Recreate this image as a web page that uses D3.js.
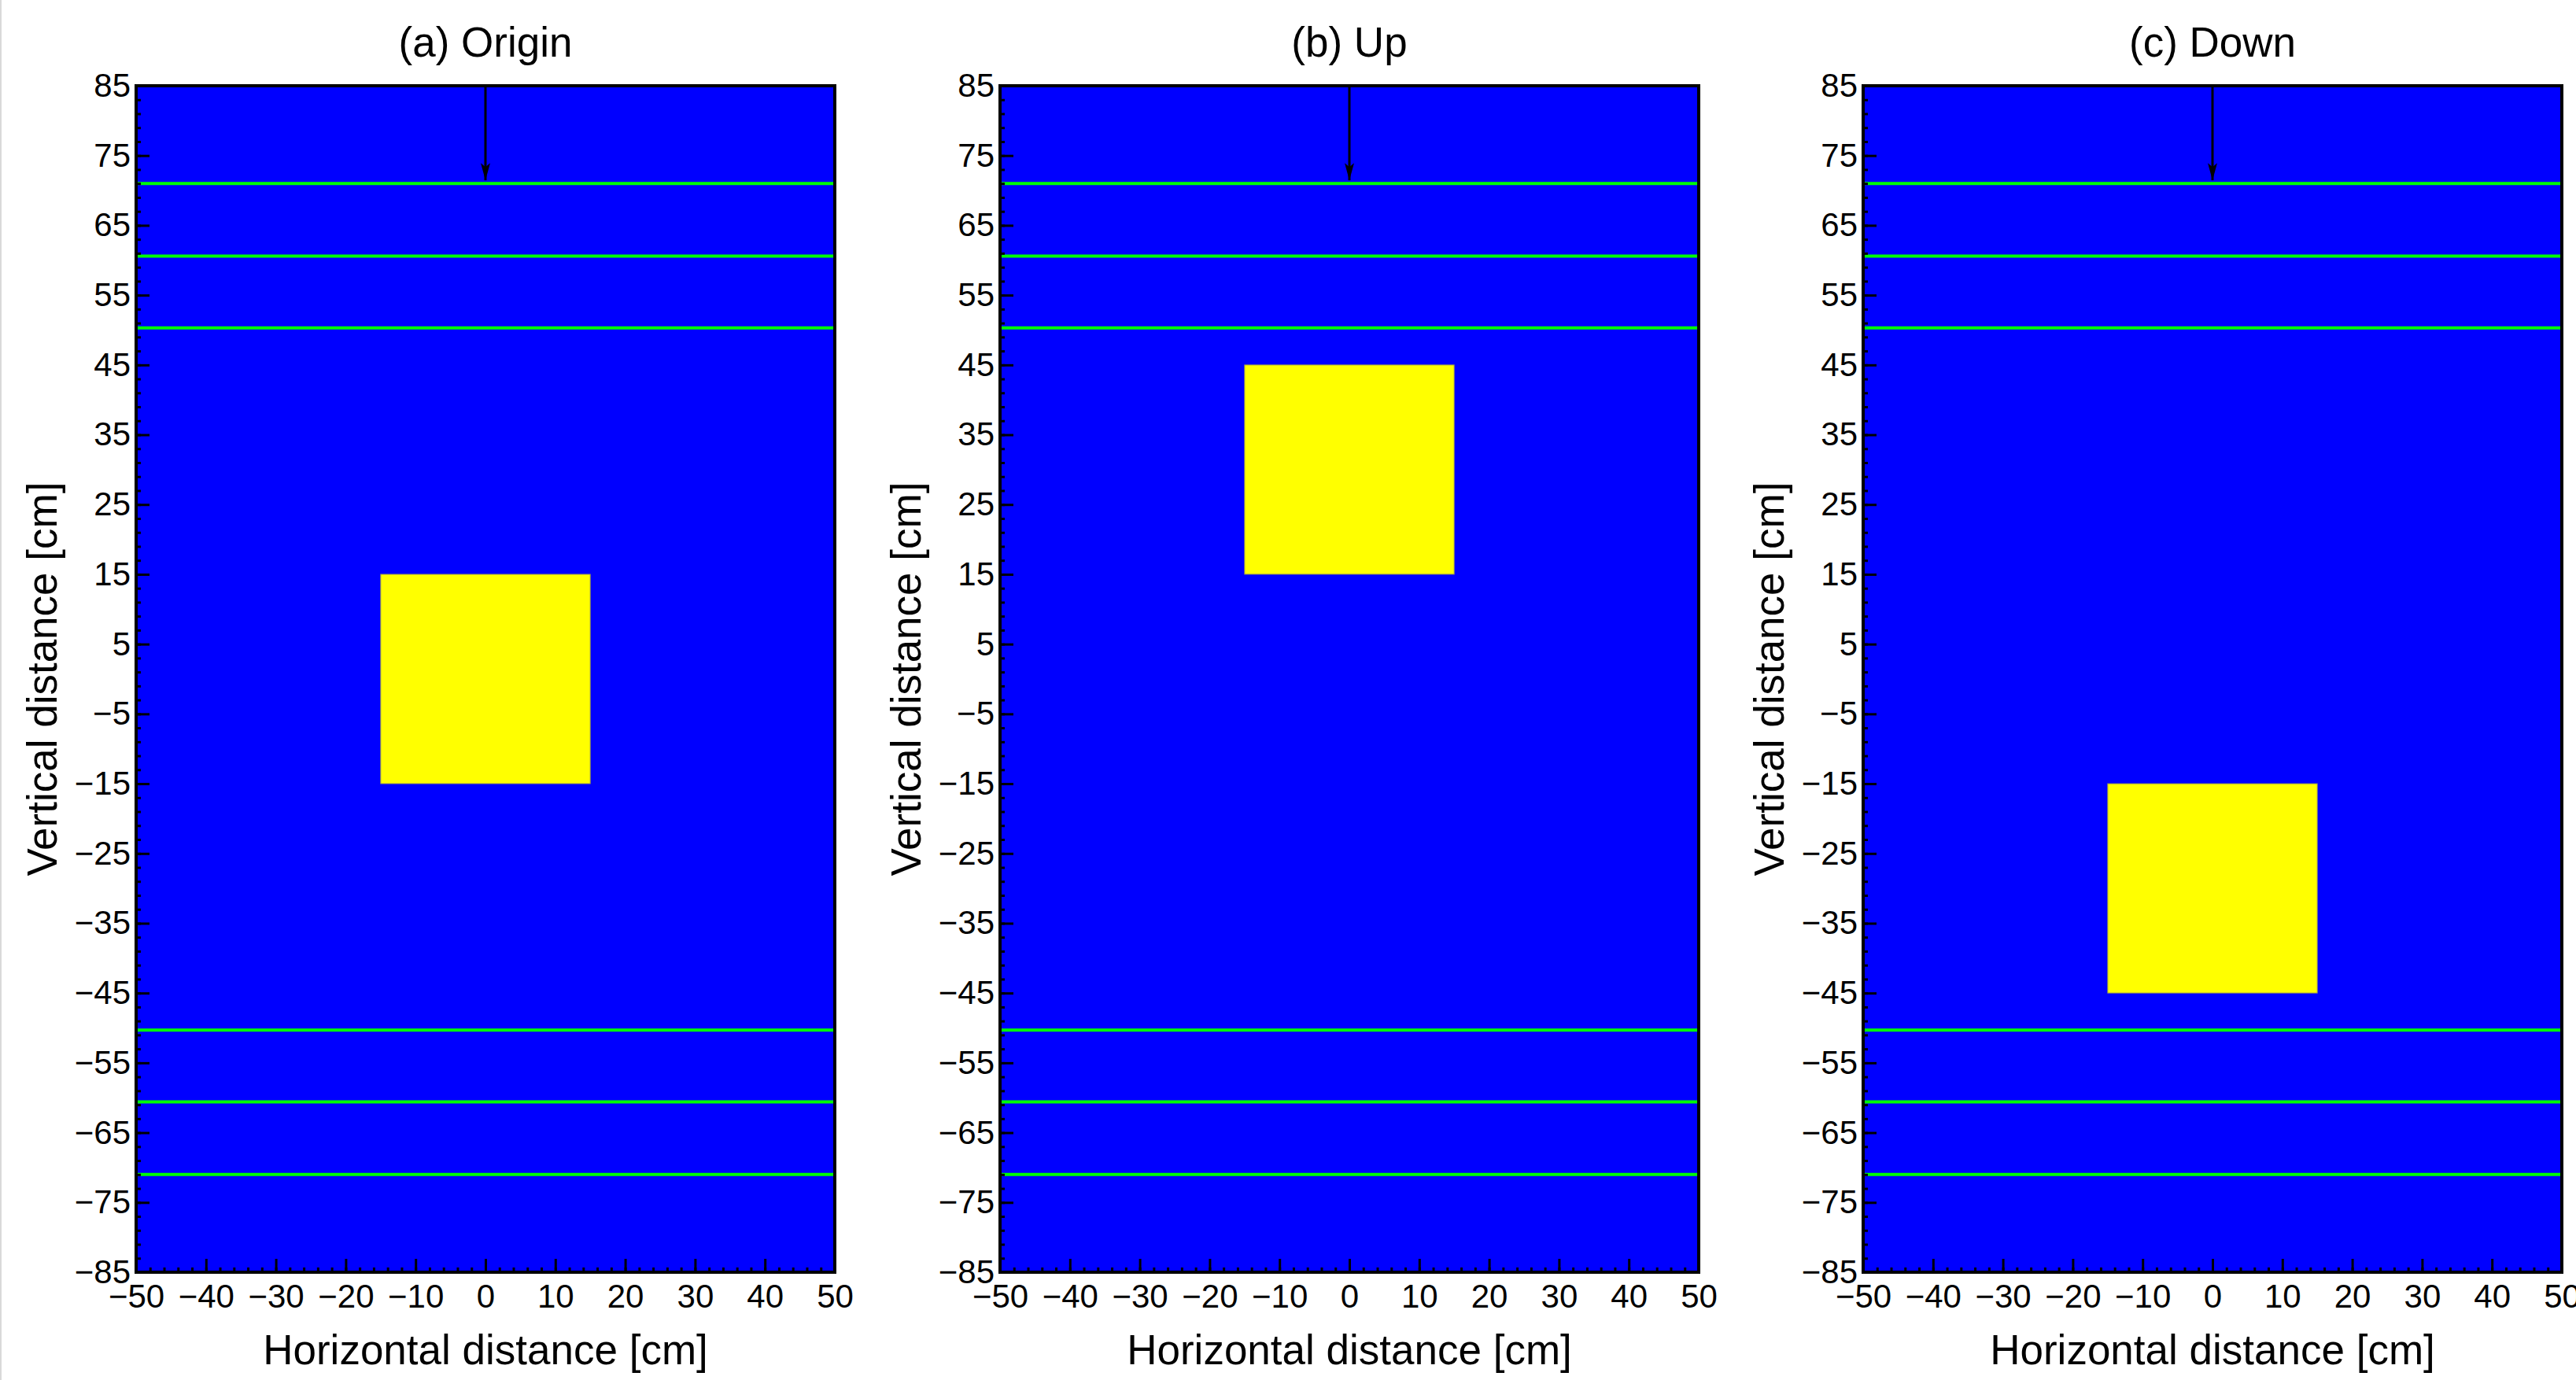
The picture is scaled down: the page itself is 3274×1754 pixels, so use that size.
<!DOCTYPE html>
<html>
<head>
<meta charset="utf-8">
<script src="https://cdn.jsdelivr.net/npm/d3@7"></script>
<style>
  body { margin: 0; background: #fff; }
  text { font-family: "Liberation Sans", Arial, sans-serif; }
</style>
</head>
<body>
<div id="chart"></div>
<script>
// data (cm)
var panelTitles = ["(a) Origin", "(b) Up", "(c) Down"];
var squareX = [[-15, 15], [-15, 15], [-15, 15]];
var squareY = [[-15, 15], [15, 45], [-45, -15]];
var greenLines = [71, 60.6, 50.3, -50.3, -60.6, -71];
var arrowX = 0, arrowFrom = 85, arrowTo = 71;
var xTicks = d3.range(-50, 51, 10);
var yTicks = d3.range(-85, 86, 10);
var xMinor = d3.range(-50, 51, 2);
var yMinor = d3.range(-85, 86, 2);

var svgWidth = 3274, svgHeight = 1754;
var panelLeft = [173, 1271, 2368];
var marginTop = 109, width = 888, height = 1508;

var svg = d3.select('#chart').append('svg')
  .attr('width', svgWidth)
  .attr('height', svgHeight);

svg.append("line")
  .attr("x1", 1).attr("x2", 1).attr("y1", 0).attr("y2", svgHeight)
  .attr("stroke", "#d9d9d9").attr("stroke-width", 2);

// arrowhead drawn along +x so orient=auto turns it down the shaft
svg.append("defs").append("marker")
  .attr("id", "arrowhead")
  .attr("viewBox", "0 0 22 12")
  .attr("refX", 22).attr("refY", 6)
  .attr("markerWidth", 22).attr("markerHeight", 12)
  .attr("markerUnits", "userSpaceOnUse")
  .attr("orient", "auto")
  .append("path")
  .attr("d", "M0,0 L22,6 L0,12 L5,6 Z")
  .attr("fill", "#000");

var minus = function(v) { return v < 0 ? "\u2212" + Math.abs(v) : "" + v; };

panelTitles.forEach(function(title, i) {
  var x = d3.scaleLinear().domain([-50, 50]).range([0, width]);
  var y = d3.scaleLinear().domain([-85, 85]).range([height, 0]);

  var g = svg.append("g")
    .attr("transform", "translate(" + panelLeft[i] + "," + marginTop + ")");

  g.append("rect")
    .attr("width", width).attr("height", height)
    .attr("fill", "#0000ff");

  // target square
  g.append("rect")
    .attr("x", x(squareX[i][0]))
    .attr("y", y(squareY[i][1]))
    .attr("width", x(squareX[i][1]) - x(squareX[i][0]))
    .attr("height", y(squareY[i][0]) - y(squareY[i][1]))
    .attr("fill", "#ffff00")
    .attr("stroke", "#8a8a60").attr("stroke-width", 1);

  g.selectAll(".green")
    .data(greenLines)
    .enter().append("line")
    .attr("x1", x(-50)).attr("x2", x(50))
    .attr("y1", d => y(d)).attr("y2", d => y(d))
    .attr("stroke", "#00ff00").attr("stroke-width", 4);

  g.append("line")
    .attr("x1", x(arrowX)).attr("x2", x(arrowX))
    .attr("y1", y(arrowFrom)).attr("y2", y(arrowTo) - 4)
    .attr("stroke", "#000").attr("stroke-width", 3)
    .attr("marker-end", "url(#arrowhead)");

  // minor ticks
  g.append("g")
    .call(d3.axisLeft(y).tickValues(yMinor).tickSize(-6).tickSizeOuter(0).tickFormat(""))
    .call(a => a.select(".domain").remove())
    .selectAll("line").attr("stroke-width", 3);
  g.append("g")
    .attr("transform", "translate(0," + height + ")")
    .call(d3.axisBottom(x).tickValues(xMinor).tickSize(-6).tickSizeOuter(0).tickFormat(""))
    .call(a => a.select(".domain").remove())
    .selectAll("line").attr("stroke-width", 3);

  // major ticks
  var yAxis = g.append("g")
    .call(d3.axisLeft(y).tickValues(yTicks).tickSize(-17).tickSizeOuter(0)
      .tickPadding(7).tickFormat(minus));
  yAxis.select(".domain").remove();
  yAxis.selectAll("line").attr("stroke-width", 3);
  yAxis.selectAll("text").attr("font-size", 42).attr("font-family", "Liberation Sans, Arial, sans-serif");

  var xAxis = g.append("g")
    .attr("transform", "translate(0," + height + ")")
    .call(d3.axisBottom(x).tickValues(xTicks).tickSize(-17).tickSizeOuter(0)
      .tickPadding(15).tickFormat(minus));
  xAxis.select(".domain").remove();
  xAxis.selectAll("line").attr("stroke-width", 3);
  xAxis.selectAll("text").attr("font-size", 42).attr("font-family", "Liberation Sans, Arial, sans-serif");

  g.append("rect")
    .attr("width", width).attr("height", height)
    .attr("fill", "none").attr("stroke", "#000").attr("stroke-width", 4);

  g.append("text")
    .attr("x", width / 2).attr("y", 72 - marginTop)
    .attr("text-anchor", "middle")
    .attr("font-size", 53)
    .text(title);

  g.append("text")
    .attr("x", width / 2).attr("y", 1734 - marginTop)
    .attr("text-anchor", "middle")
    .attr("font-size", 53)
    .text("Horizontal distance [cm]");

  g.append("text")
    .attr("transform", "translate(-101," + (height / 2) + ") rotate(-90)")
    .attr("text-anchor", "middle")
    .attr("font-size", 53)
    .text("Vertical distance [cm]");
});
</script>
</body>
</html>
